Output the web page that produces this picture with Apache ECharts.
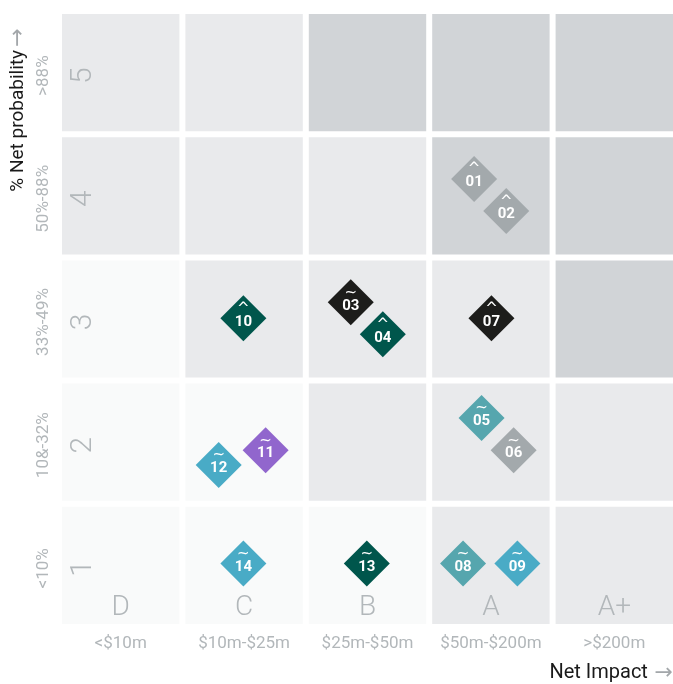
<!DOCTYPE html>
<html>
<head>
<meta charset="utf-8">
<script src="https://cdn.jsdelivr.net/npm/echarts@6/dist/echarts.min.js"></script>
<style>
  html, body { margin: 0; padding: 0; background: #fff; }
  #main { width: 673px; height: 684px; }
</style>
</head>
<body>
<div id="main"></div>
<script>
  // columns (impact), left to right
  var impactLetters = ['D', 'C', 'B', 'A', 'A+'];
  var impactRanges = ['<$10m', '$10m-$25m', '$25m-$50m', '$50m-$200m', '>$200m'];
  // rows (probability), bottom to top
  var probLevels = ['1', '2', '3', '4', '5'];
  var probRanges = ['<10%', '10&-32%', '33%-49%', '50%-88%', '>88%'];

  // cell shade per row (bottom to top), per column: 0 light, 1 mid, 2 dark
  var cellShade = [
    [0, 0, 0, 1, 1],
    [0, 0, 1, 1, 1],
    [0, 1, 1, 1, 2],
    [1, 1, 1, 2, 2],
    [1, 1, 2, 2, 2]
  ];

  // risks: id, trend mark, x (impact units), y (probability units), group
  var riskIds   = ['01', '02', '03', '04', '05', '06', '07', '08', '09', '10', '11', '12', '13', '14'];
  var riskMarks = ['^', '^', '~', '^', '~', '~', '^', '~', '~', '^', '~', '~', '~', '~'];
  var riskX     = [3.34, 3.60, 2.34, 2.60, 3.40, 3.66, 3.48, 3.25, 3.69, 1.47, 1.65, 1.27, 2.47, 1.47];
  var riskY     = [3.66, 3.40, 2.66, 2.40, 1.72, 1.46, 2.53, 0.54, 0.54, 2.53, 1.46, 1.34, 0.54, 0.54];
  var riskGroup = ['grey', 'grey', 'black', 'green', 'teal', 'grey', 'black', 'teal', 'blue', 'green', 'purple', 'blue', 'green', 'blue'];

  var groupColors = {
    grey: '#a3a9ac',
    black: '#1d1d1b',
    green: '#00564c',
    teal: '#56a6ae',
    blue: '#49abc6',
    purple: '#9166cd'
  };
  var shadeColors = ['#f9fafa', '#e9eaec', '#d1d4d7'];
  var labelGrey = '#b2b7ba';
  var gap = 6;

  var cellData = [];
  cellShade.forEach(function (row, r) {
    row.forEach(function (s, c) {
      cellData.push([c, r, s]);
    });
  });

  var riskData = riskIds.map(function (id, i) {
    return {
      value: [riskX[i], riskY[i], id, riskMarks[i]],
      itemStyle: { color: groupColors[riskGroup[i]], opacity: 1 }
    };
  });

  var myChart = echarts.init(document.getElementById('main'));

  var option = {
    animation: false,
    textStyle: { fontFamily: 'Roboto' },
    grid: { left: 62, top: 14, width: 617, height: 616, outerBoundsMode: 'none', containLabel: false },
    xAxis: [
      { type: 'value', min: 0, max: 5, show: false },
      {
        type: 'category', data: impactRanges, position: 'bottom',
        axisLine: { show: false }, axisTick: { show: false }, splitLine: { show: false },
        axisLabel: { interval: 0, color: labelGrey, fontSize: 17, margin: 5, padding: [0, 6, 0, 0] }
      },
      {
        type: 'category', data: impactLetters, position: 'bottom',
        axisLine: { show: false }, axisTick: { show: false }, splitLine: { show: false },
        axisLabel: { interval: 0, inside: true, color: labelGrey, fontSize: 28, fontWeight: 300, margin: 8, padding: [0, 6, 0, 0] },
        z: 5
      }
    ],
    yAxis: [
      { type: 'value', min: 0, max: 5, show: false },
      {
        type: 'category', data: probRanges, position: 'left',
        axisLine: { show: false }, axisTick: { show: false }, splitLine: { show: false },
        axisLabel: { interval: 0, rotate: 90, color: labelGrey, fontSize: 17, margin: 4, padding: [0, 0, 6, 0] }
      },
      {
        type: 'category', data: probLevels, position: 'left',
        axisLine: { show: false }, axisTick: { show: false }, splitLine: { show: false },
        axisLabel: { interval: 0, inside: true, rotate: 90, color: labelGrey, fontSize: 30, fontWeight: 300, margin: 6 },
        z: 5
      }
    ],
    graphic: [
      {
        type: 'text', x: 18, y: 110, rotation: Math.PI / 2,
        style: {
          text: '{t|% Net probability} {a|→}',
          align: 'center', verticalAlign: 'middle',
          rich: {
            t: { fontFamily: 'Roboto', fontSize: 19, fill: '#1a1a1a' },
            a: { fontFamily: 'DejaVu Sans', fontSize: 22, fill: '#a3a7aa' }
          }
        }
      },
      {
        type: 'text', x: 673, y: 673,
        style: {
          text: '{t|Net Impact}  {a|→}',
          align: 'right', verticalAlign: 'middle',
          rich: {
            t: { fontFamily: 'Roboto', fontSize: 20, fill: '#1a1a1a' },
            a: { fontFamily: 'DejaVu Sans', fontSize: 22, fill: '#a3a7aa' }
          }
        }
      }
    ],
    series: [
      {
        type: 'custom',
        xAxisIndex: 0, yAxisIndex: 0,
        data: cellData,
        z: 1,
        renderItem: function (params, api) {
          var c = api.value(0), r = api.value(1);
          var p0 = api.coord([c, r + 1]);
          var p1 = api.coord([c + 1, r]);
          return {
            type: 'rect',
            shape: { x: p0[0], y: p0[1], width: p1[0] - p0[0] - gap, height: p1[1] - p0[1] - gap },
            style: { fill: shadeColors[api.value(2)] }
          };
        }
      },
      {
        type: 'scatter',
        xAxisIndex: 0, yAxisIndex: 0,
        symbol: 'diamond',
        symbolSize: 46,
        z: 10,
        data: riskData,
        label: {
          show: true,
          position: 'inside',
          offset: [0, -2],
          formatter: function (p) {
            return '{m|' + p.value[3] + '}\n{n|' + p.value[2] + '}';
          },
          rich: {
            m: { color: '#fff', fontSize: 15, lineHeight: 11, fontFamily: 'DejaVu Sans' },
            n: { color: '#fff', fontSize: 15, fontWeight: 'bold', lineHeight: 15, fontFamily: 'Roboto' }
          }
        }
      }
    ]
  };

  myChart.setOption(option);
</script>
</body>
</html>
